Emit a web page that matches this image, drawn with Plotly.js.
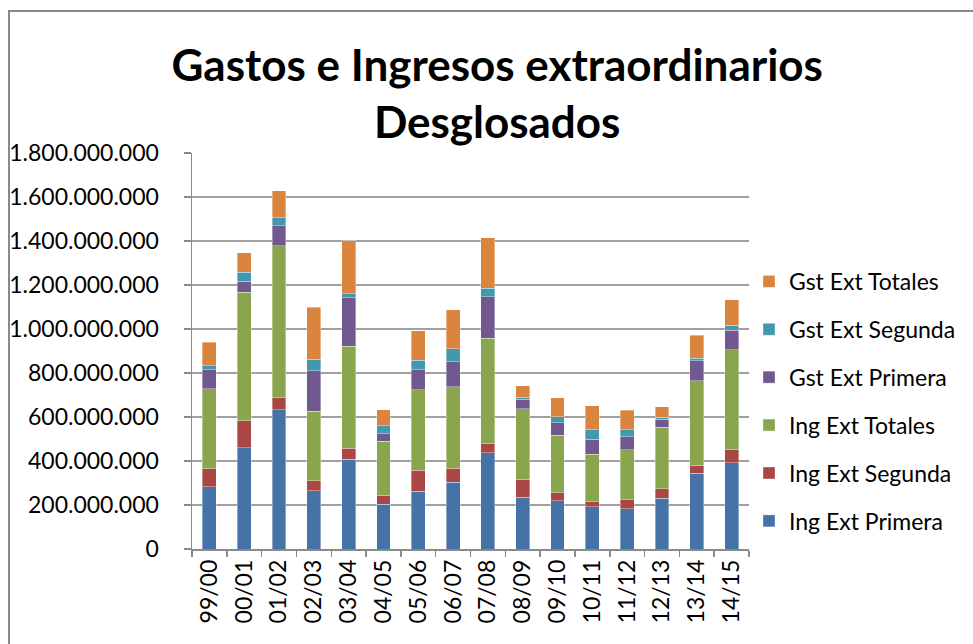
<!DOCTYPE html>
<html>
<head>
<meta charset="utf-8">
<script src="https://cdn.plot.ly/plotly-3.0.1.min.js"></script>
<style>
html,body{margin:0;padding:0;background:#fff;overflow:hidden;}
#chart{position:absolute;left:0;top:0;width:973px;height:644px;}
#frame{position:absolute;left:8px;top:10px;width:1000px;height:700px;border:2px solid #8a8a8a;pointer-events:none;box-sizing:border-box;}
</style>
</head>
<body>
<div id="chart"></div>
<div id="frame"></div>
<script>
const categories = ["99/00","00/01","01/02","02/03","03/04","04/05","05/06","06/07","07/08","08/09","09/10","10/11","11/12","12/13","13/14","14/15"];
const ingExtPrimera = [284e6,461e6,634e6,265e6,407e6,204e6,263e6,304e6,437e6,236e6,219e6,191e6,183e6,230e6,345e6,393e6];
const ingExtSegunda = [81e6,123e6,54e6,45e6,51e6,40e6,96e6,62e6,41e6,82e6,37e6,24e6,41e6,44e6,35e6,59e6];
const ingExtTotales = [363e6,584e6,690e6,316e6,463e6,245e6,364e6,371e6,480e6,320e6,260e6,215e6,228e6,280e6,384e6,453e6];
const gstExtPrimera = [87e6,50e6,91e6,185e6,221e6,36e6,92e6,115e6,189e6,43e6,59e6,69e6,58e6,36e6,92e6,90e6];
const gstExtSegunda = [19e6,39e6,36e6,51e6,18e6,36e6,43e6,59e6,39e6,9e6,26e6,43e6,32e6,9e6,12e6,23e6];
const gstExtTotales = [106e6,89e6,123e6,238e6,241e6,73e6,134e6,177e6,229e6,53e6,86e6,110e6,89e6,47e6,103e6,114e6];
const tickVals = [0,200e6,400e6,600e6,800e6,1000e6,1200e6,1400e6,1600e6,1800e6];

const seriesNames = ["Ing Ext Primera","Ing Ext Segunda","Ing Ext Totales","Gst Ext Primera","Gst Ext Segunda","Gst Ext Totales"];
const seriesData = [ingExtPrimera,ingExtSegunda,ingExtTotales,gstExtPrimera,gstExtSegunda,gstExtTotales];
const colors = ["#4572A7","#AA4643","#89A54E","#71588F","#4198AF","#DB843D"];

const traces = seriesNames.map((n,i)=>({
  type:'bar', name:n, x:categories, y:seriesData[i], legendgroup:'g'+i, legendrank:100-i,
  marker:{color:colors[i], line:{color:'rgba(255,255,255,0.45)', width:0.8}}
}));

const font = "Lato, 'DejaVu Sans', sans-serif";
const layout = {
  width:973, height:644,
  margin:{l:192, r:224, t:153, b:95, pad:0, autoexpand:false},
  paper_bgcolor:'#fff', plot_bgcolor:'#fff',
  barmode:'stack', bargap:0.6,
  separators:',.',
  showlegend:true,
  font:{family:font, color:'#000', size:22},
  title:{text:'<b>Gastos e Ingresos extraordinarios<br>Desglosados</b>', x:0.511, xanchor:'center', y:0.874, yanchor:'middle', yref:'container',
         font:{family:font, size:44, color:'#000'}},
  xaxis:{type:'category', tickangle:-90, tickson:'boundaries', ticks:'outside', ticklen:6, tickcolor:'#8a8a8a', tickwidth:1.5,
         showline:true, linecolor:'#8a8a8a', linewidth:1.5, showgrid:false, tickfont:{family:font, size:23, color:'#000'}},
  yaxis:{range:[0,1800e6], tickvals:tickVals, tickformat:',d', ticks:'outside', ticklen:7, tickcolor:'#8a8a8a', tickwidth:1.5,
         showline:true, linecolor:'#8a8a8a', linewidth:1.5, showgrid:true, gridcolor:'#a0a0a0', gridwidth:1.5, zeroline:false,
         tickfont:{family:font, size:23, color:'#000'}, ticklabelstandoff:20},
  legend:{x:1.0, xanchor:'left', y:0.73, yanchor:'top', traceorder:'grouped', tracegroupgap:15,
          font:{family:font, size:23, color:'#000'}, itemwidth:30, bgcolor:'rgba(0,0,0,0)'}
};
Plotly.newPlot('chart', traces, layout, {displayModeBar:false, staticPlot:true});
</script>
</body>
</html>
